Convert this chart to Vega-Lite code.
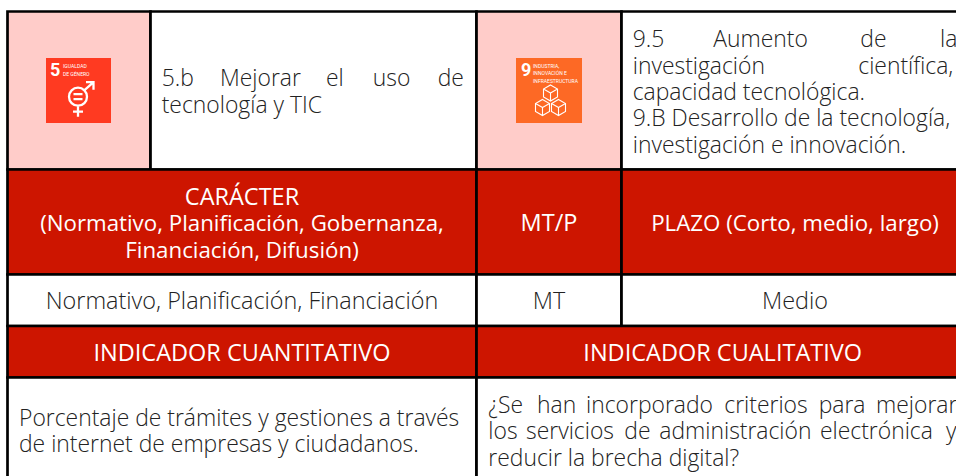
{
"$schema":"https://vega.github.io/schema/vega-lite/v6.json",
"width":956,"height":476,"padding":0,"autosize":"none","background":"white",
"view":{"stroke":null},
"datasets":{
"cells":[
{"c0":0,"c1":7,"r0":0,"r1":18,"kind":"pink"},
{"c0":7,"c1":14,"r0":0,"r1":18,"kind":"white"},
{"c0":14,"c1":25,"r0":0,"r1":18,"kind":"pink"},
{"c0":25,"c1":40,"r0":0,"r1":18,"kind":"white"},
{"c0":0,"c1":14,"r0":18,"r1":22,"kind":"red"},
{"c0":14,"c1":25,"r0":18,"r1":22,"kind":"red"},
{"c0":25,"c1":40,"r0":18,"r1":22,"kind":"red"},
{"c0":0,"c1":14,"r0":22,"r1":24,"kind":"white"},
{"c0":14,"c1":25,"r0":22,"r1":24,"kind":"white"},
{"c0":25,"c1":40,"r0":22,"r1":24,"kind":"white"},
{"c0":0,"c1":14,"r0":24,"r1":26,"kind":"red"},
{"c0":14,"c1":40,"r0":24,"r1":26,"kind":"red"},
{"c0":0,"c1":14,"r0":26,"r1":32,"kind":"white"},
{"c0":14,"c1":40,"r0":26,"r1":32,"kind":"white"}],
"icons":[
{"c0":2,"c1":6,"r0":2,"r1":15,"kind":"ods5"},
{"c0":16,"c1":23,"r0":2,"r1":15,"kind":"ods9"}],
"bodyLeft":[
{"t":"5.b","c":8,"r":10},{"t":"Mejorar","c":9,"r":10},{"t":"el","c":11,"r":10},{"t":"uso","c":12,"r":10},{"t":"de","c":13,"r":10},
{"t":"tecnología y TIC","c":8,"r":14},
{"t":"9.5","c":27,"r":1},{"t":"Aumento","c":29,"r":1},{"t":"de","c":36,"r":1},{"t":"la","c":38,"r":1},
{"t":"investigación","c":27,"r":5},{"t":"científica,","c":35,"r":5},
{"t":"capacidad tecnológica.","c":27,"r":12},
{"t":"9.B Desarrollo de la tecnología,","c":27,"r":16},
{"t":"investigación e innovación.","c":27,"r":17},
{"t":"Porcentaje de trámites y gestiones a través","c":1,"r":28},
{"t":"de internet de empresas y ciudadanos.","c":1,"r":30},
{"t":"¿Se","c":15,"r":27},{"t":"han","c":20,"r":27},{"t":"incorporado","c":24,"r":27},{"t":"criterios","c":31,"r":27},{"t":"para","c":33,"r":27},{"t":"mejorar","c":37,"r":27},
{"t":"los","c":15,"r":29},{"t":"servicios","c":18,"r":29},{"t":"de","c":26,"r":29},{"t":"administración","c":28,"r":29},{"t":"electrónica","c":34,"r":29},{"t":"y","c":39,"r":29},
{"t":"reducir la brecha digital?","c":15,"r":31}],
"bodyCenter":[
{"t":"Normativo, Planificación, Financiación","c":10,"r":23},
{"t":"MT","c":21,"r":23},
{"t":"Medio","c":32,"r":23}],
"headCaps":[
{"t":"CARÁCTER","c":10,"r":19},
{"t":"MT/P","c":21,"r":20},
{"t":"INDICADOR CUANTITATIVO","c":10,"r":25},
{"t":"INDICADOR CUALITATIVO","c":30,"r":25}],
"headMixed":[
{"t":"(Normativo, Planificación, Gobernanza,","c":10,"r":20},
{"t":"Financiación, Difusión)","c":10,"r":21},
{"t":"PLAZO (Corto, medio, largo)","c":32,"r":20}],
"numbers":[{"t":"5","c":3,"r":7},{"t":"9","c":17,"r":7}],
"iconText":[
{"t":"IGUALDAD","c":4,"r":4},{"t":"DE GÉNERO","c":4,"r":8},
{"t":"INDUSTRIA,","c":19,"r":3},{"t":"INNOVACIÓN E","c":19,"r":6},{"t":"INFRAESTRUCTURA","c":19,"r":9}],
"glyph5":[{"c":5,"r":11}],
"glyph9":[{"c":22,"r":13}]
},
"encoding":{
"x":{"field":"c","type":"quantitative","axis":null,"scale":{"domain":[0,1,2,3,4,5,6,7,8,9,10,11,12,13,14,15,16,17,18,19,20,21,22,23,24,25,26,27,28,29,30,31,32,33,34,35,36,37,38,39,40],"range":[7.5,19,46,50,63,78,111,150.5,161.7,220,242,326,372.7,437.7,476.5,488.3,516,521,526,533,537,549,550.5,582,586,621.5,624.3,632.7,659.3,713.3,722.7,724.3,795,818.7,820,858.3,860.3,876,940,946,965],"nice":false,"zero":false}},
"y":{"field":"r","type":"quantitative","axis":null,"scale":{"domain":[0,1,2,3,4,5,6,7,8,9,10,11,12,13,14,15,16,17,18,19,20,21,22,23,24,25,26,27,28,29,30,31,32],"range":[11.5,46.8,58,67.5,68,73.5,74.7,75.7,76,82.7,86.1,96.7,99.8,100.5,112.5,123,125.8,152.5,169.5,204.5,231.1,257.8,274.5,309.1,326,360.8,377.5,413.1,425.8,439.1,451.8,465.8,485],"nice":false,"zero":false}}
},
"layer":[
{"data":{"name":"cells"},"mark":{"type":"rect","stroke":"#000","strokeWidth":2.7},
"encoding":{"x":{"field":"c0","type":"quantitative"},"x2":{"field":"c1"},"y":{"field":"r0","type":"quantitative"},"y2":{"field":"r1"},
"color":{"field":"kind","type":"nominal","legend":null,"scale":{"domain":["pink","white","red","ods5","ods9"],"range":["#FFCCC9","#FFFFFF","#CD1500","#FF3A21","#FD6925"]}}}},
{"data":{"name":"icons"},"mark":{"type":"rect"},
"encoding":{"x":{"field":"c0","type":"quantitative"},"x2":{"field":"c1"},"y":{"field":"r0","type":"quantitative"},"y2":{"field":"r1"},
"color":{"field":"kind","type":"nominal","legend":null}}},
{"data":{"name":"bodyLeft"},"mark":{"type":"text","align":"left","baseline":"alphabetic","font":"Open Sans","fontSize":22.9,"fontWeight":300,"color":"#222222"},"encoding":{"text":{"field":"t"}}},
{"data":{"name":"bodyCenter"},"mark":{"type":"text","align":"center","baseline":"alphabetic","font":"Open Sans","fontSize":23.4,"fontWeight":300,"color":"#222222"},"encoding":{"text":{"field":"t"}}},
{"data":{"name":"headCaps"},"mark":{"type":"text","align":"center","baseline":"alphabetic","font":"Open Sans","fontSize":23.5,"color":"#FFFFFF"},"encoding":{"text":{"field":"t"}}},
{"data":{"name":"headMixed"},"mark":{"type":"text","align":"center","baseline":"alphabetic","font":"Open Sans","fontSize":22.3,"color":"#FFFFFF"},"encoding":{"text":{"field":"t"}}},
{"data":{"name":"numbers"},"mark":{"type":"text","align":"left","baseline":"alphabetic","font":"Roboto","fontWeight":"bold","fontSize":18,"color":"#FFFFFF"},"encoding":{"text":{"field":"t"}}},
{"data":{"name":"iconText"},"mark":{"type":"text","align":"left","baseline":"alphabetic","font":"Roboto","fontSize":5,"color":"#FFFFFF"},"encoding":{"text":{"field":"t"}}},
{"data":{"name":"glyph5"},"mark":{"type":"point","filled":false,"stroke":"#FFFFFF","strokeWidth":2.3,"opacity":1,"size":2500,"shape":"M0.36,0 A0.36,0.36 0 1 1 -0.36,0 A0.36,0.36 0 1 1 0.36,0 Z M0.26,-0.26 L0.6,-0.56 M0.32,-0.58 L0.62,-0.58 L0.62,-0.28 M0,0.36 L0,0.8 M-0.2,0.6 L0.2,0.6 M-0.18,-0.1 L0.18,-0.1 M-0.18,0.1 L0.18,0.1"}},
{"data":{"name":"glyph9"},"mark":{"type":"point","filled":false,"stroke":"#FFFFFF","strokeWidth":1.1,"opacity":1,"size":2500,"shape":"M0,-0.62 L0.28,-0.46 L0.28,-0.14 L0,0.02 L-0.28,-0.14 L-0.28,-0.46 Z M0,-0.3 L0.28,-0.46 M0,-0.3 L-0.28,-0.46 M0,-0.3 L0,0.02 M-0.32,-0.04 L-0.04,0.12 L-0.04,0.44 L-0.32,0.6 L-0.6,0.44 L-0.6,0.12 Z M-0.32,0.28 L-0.04,0.12 M-0.32,0.28 L-0.6,0.12 M-0.32,0.28 L-0.32,0.6 M0.32,-0.04 L0.6,0.12 L0.6,0.44 L0.32,0.6 L0.04,0.44 L0.04,0.12 Z M0.32,0.28 L0.6,0.12 M0.32,0.28 L0.04,0.12 M0.32,0.28 L0.32,0.6"}}
]
}
